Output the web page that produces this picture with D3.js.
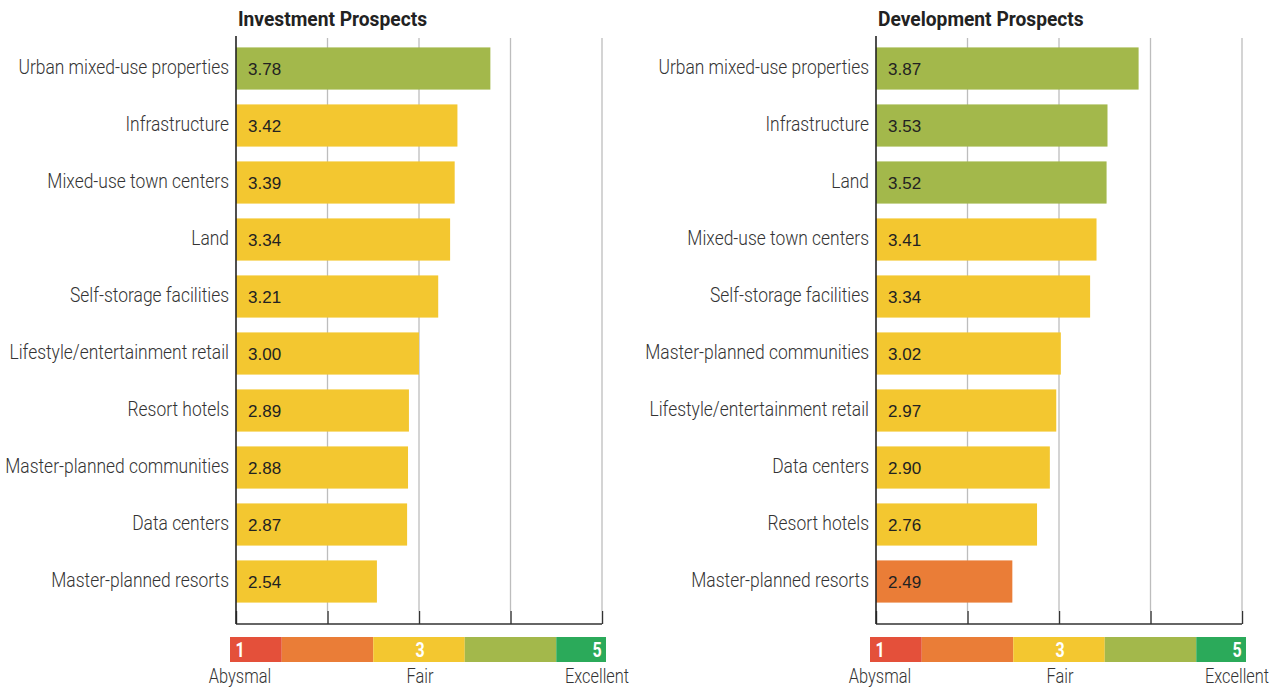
<!DOCTYPE html>
<html><head><meta charset="utf-8">
<script src="https://cdn.jsdelivr.net/npm/d3@7"></script>
<style>body{margin:0;background:#fff}svg{display:block}</style>
</head><body>
<svg id="c" width="1276" height="689"></svg>
<script>
const invCategories = ["Urban mixed-use properties","Infrastructure","Mixed-use town centers","Land","Self-storage facilities","Lifestyle/entertainment retail","Resort hotels","Master-planned communities","Data centers","Master-planned resorts"];
const invValues = [3.78,3.42,3.39,3.34,3.21,3.00,2.89,2.88,2.87,2.54];
const devCategories = ["Urban mixed-use properties","Infrastructure","Land","Mixed-use town centers","Self-storage facilities","Master-planned communities","Lifestyle/entertainment retail","Data centers","Resort hotels","Master-planned resorts"];
const devValues = [3.87,3.53,3.52,3.41,3.34,3.02,2.97,2.90,2.76,2.49];
const titles = ["Investment Prospects","Development Prospects"];
const ticks = [1,2,3,4,5];
const legendLabels = [{v:1,t:"Abysmal"},{v:3,t:"Fair"},{v:5,t:"Excellent"}];
const ratingColors = ["#E4503A","#EA7D37","#F3C730","#A3B84B","#2BAA5A"];

const svg = d3.select("#c");
const COND = 0.83;
const colorFor = v => ratingColors[Math.max(0,Math.min(4,Math.round(v)-1))];

function panel(x0, title, cats, vals){
  const g = svg.append("g");
  const x = d3.scaleLinear().domain([1,5]).range([x0, x0+366]);
  const y = d3.scaleBand().domain(cats).range([40,610]).paddingInner(0.26).paddingOuter(0.13);
  g.selectAll("line.grid").data(ticks.slice(1)).join("line")
    .attr("x1",d=>x(d)).attr("x2",d=>x(d)).attr("y1",38).attr("y2",611)
    .attr("stroke","#bdbdbd").attr("stroke-width",1.3);
  const ax = g.append("g").attr("transform","translate(0,624)")
    .call(d3.axisBottom(x).tickValues(ticks).tickSize(-13).tickFormat(""));
  ax.select(".domain").attr("stroke","#333").attr("stroke-width",1.4).attr("d",`M${x(1)},0H${x(5)}`);
  ax.selectAll(".tick line").attr("stroke","#333").attr("stroke-width",1.4);
  g.selectAll("rect.bar").data(vals).join("rect")
    .attr("x",x(1)).attr("y",(d,i)=>y(cats[i])).attr("width",d=>x(d)-x(1)).attr("height",y.bandwidth())
    .attr("fill",d=>colorFor(d));
  g.append("line").attr("x1",x(1)).attr("x2",x(1)).attr("y1",36).attr("y2",624)
    .attr("stroke","#222").attr("stroke-width",1.6);
  g.selectAll("text.val").data(vals).join("text")
    .attr("x",x(1)+12).attr("y",(d,i)=>y(cats[i])+y.bandwidth()/2+6.5)
    .attr("font-family","Liberation Sans, Arial, sans-serif").attr("font-size",17).attr("fill","#222")
    .text(d=>d.toFixed(2));
  g.selectAll("text.cat").data(cats).join("text")
    .attr("transform",d=>`translate(${x(1)-7},${y(d)+y.bandwidth()/2+5.5}) scale(${COND},1)`)
    .attr("text-anchor","end").attr("font-family","Roboto, sans-serif").attr("font-weight",300)
    .attr("font-size",21).attr("fill","#333").text(d=>d);
  svg.append("text").attr("transform",`translate(${x(1)+2},26) scale(0.96,1)`)
    .attr("font-family","Roboto, sans-serif").attr("font-weight",700).attr("font-size",20).attr("fill","#222").text(title);
  const lg = svg.append("g");
  const edges = [x(1)-6, x(1.5), x(2.5), x(3.5), x(4.5), x(5)+4];
  lg.selectAll("rect").data(ratingColors).join("rect")
    .attr("x",(d,i)=>edges[i]).attr("width",(d,i)=>edges[i+1]-edges[i]).attr("y",637).attr("height",25).attr("fill",d=>d);
  lg.selectAll("text.num").data(legendLabels).join("text")
    .attr("transform",d=>`translate(${x(d.v)+(d.v===1?4:d.v===5?-5:1)},657) scale(0.8,1)`)
    .attr("text-anchor","middle").attr("font-family","Roboto, sans-serif").attr("font-weight",700)
    .attr("font-size",20).attr("fill","#fff").text(d=>d.v);
  lg.selectAll("text.lab").data(legendLabels).join("text")
    .attr("transform",d=>`translate(${x(d.v)+(d.v===1?4:d.v===5?-5:1)},683) scale(0.82,1)`)
    .attr("text-anchor","middle").attr("font-family","Roboto, sans-serif").attr("font-weight",300)
    .attr("font-size",20).attr("fill","#333").text(d=>d.t);
}
panel(236, titles[0], invCategories, invValues);
panel(876, titles[1], devCategories, devValues);
</script>
</body></html>
